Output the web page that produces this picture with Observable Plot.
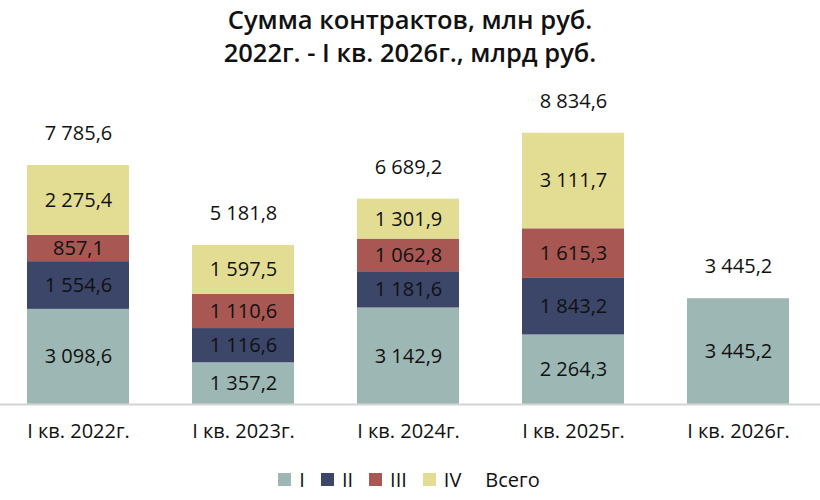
<!DOCTYPE html>
<html>
<head>
<meta charset="utf-8">
<script src="https://cdn.jsdelivr.net/npm/d3@7"></script>
<script src="https://cdn.jsdelivr.net/npm/@observablehq/plot@0.6"></script>
<style>
  body { margin: 0; background: #fff; font-family: "Open Sans", sans-serif; color: #111; }
  #title { text-align: center; font-size: 25.5px; font-weight: 600; line-height: 33px; padding-top: 3px; height: 67px; }
  #legend { display: flex; justify-content: center; align-items: center; font-size: 20px; height: 34px; padding-left: 14px; }
  .item { display: flex; align-items: center; margin-right: 16px; }
  .sw { width: 13px; height: 13px; margin-right: 8px; }
</style>
</head>
<body>
<div id="title">Сумма контрактов, млн руб.<br>2022г. - I кв. 2026г., млрд руб.</div>
<div id="chart"></div>
<div id="legend"></div>
<script>
const categories = ["I кв. 2022г.", "I кв. 2023г.", "I кв. 2024г.", "I кв. 2025г.", "I кв. 2026г."];
const seriesNames = ["I", "II", "III", "IV"];
const valuesI   = [3098.6, 1357.2, 3142.9, 2264.3, 3445.2];
const valuesII  = [1554.6, 1116.6, 1181.6, 1843.2, null];
const valuesIII = [857.1, 1110.6, 1062.8, 1615.3, null];
const valuesIV  = [2275.4, 1597.5, 1301.9, 3111.7, null];
const totals    = [7785.6, 5181.8, 6689.2, 8834.6, 3445.2];
const colors = ["#9db8b4", "#3b4669", "#a85752", "#e3dd94"];

const locale = d3.formatLocale({decimal: ",", thousands: "\u00a0", grouping: [3]});
const fmt = locale.format(",.1f");

const seriesValues = [valuesI, valuesII, valuesIII, valuesIV];
const rows = [];
seriesNames.forEach((s, si) => {
  categories.forEach((c, ci) => {
    const v = seriesValues[si][ci];
    if (v != null) rows.push({cat: c, series: s, value: v});
  });
});
const totalRows = categories.map((c, i) => ({cat: c, total: totals[i]}));

const chart = Plot.plot({
  width: 820,
  height: 392,
  marginLeft: 0,
  marginRight: 0,
  marginTop: 27,
  marginBottom: 58,
  style: {fontFamily: "'Open Sans', sans-serif", fontSize: "20px", color: "#111"},
  x: {domain: categories, range: [-6, 822], paddingInner: 0.384, paddingOuter: 0.192, label: null, tickSize: 0, tickPadding: 19},
  y: {domain: [0, 10000], axis: null},
  color: {domain: seriesNames, range: colors},
  marks: [
    Plot.barY(rows, Plot.stackY({x: "cat", y: "value", fill: "series", z: "series"})),
    Plot.text(rows, Plot.stackY({x: "cat", y: "value", z: "series", text: d => fmt(d.value), fill: "#111", fontSize: 20})),
    Plot.text(totalRows, {x: "cat", y: "total", text: d => fmt(d.total), dy: -32, fill: "#111", fontSize: 20}),
    Plot.ruleY([0], {stroke: "#d4d4d4", strokeWidth: 2})
  ]
});
document.getElementById("chart").appendChild(chart);

const legend = document.getElementById("legend");
seriesNames.forEach((s, i) => {
  const it = document.createElement("div");
  it.className = "item";
  it.innerHTML = `<div class="sw" style="background:${colors[i]}"></div><span>${s}</span>`;
  legend.appendChild(it);
});
const tot = document.createElement("div");
tot.className = "item";
tot.style.marginLeft = "8px";
tot.innerHTML = "<span>Всего</span>";
legend.appendChild(tot);
</script>
</body>
</html>
